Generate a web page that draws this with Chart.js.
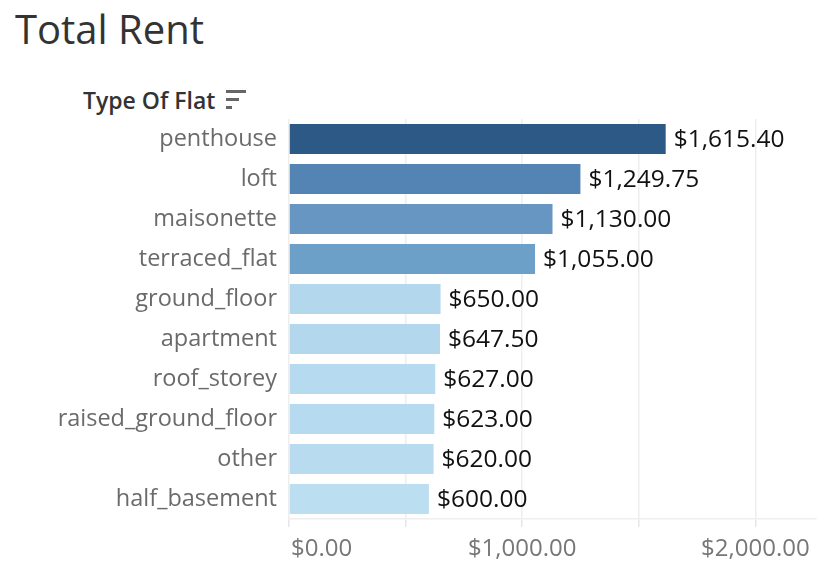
<!DOCTYPE html>
<html><head><meta charset="utf-8">
<script src="https://cdn.jsdelivr.net/npm/chart.js@4"></script>
<style>
html,body{margin:0;padding:0;background:#fff;width:822px;height:568px;overflow:hidden;}
#wrap{position:relative;width:822px;height:568px;}
#title{position:absolute;left:15px;top:1px;font:40px "Open Sans",sans-serif;color:#333;margin:0;white-space:nowrap;}
#hdr{position:absolute;left:83px;top:84px;font:600 23px "Open Sans",sans-serif;color:#333;white-space:nowrap;}
#sort{position:absolute;left:226px;top:90px;width:20px;height:19px;}
#sort span{position:absolute;left:0;height:3px;background:#666;}
canvas{position:absolute;left:0;top:0;}
</style></head>
<body><div id="wrap">
<div id="title">Total Rent</div>
<div id="hdr">Type Of Flat</div>
<div id="sort"><span style="top:0;width:20px"></span><span style="top:8px;width:13px"></span><span style="top:16px;width:6px"></span></div>
<canvas id="c" width="822" height="568"></canvas>
</div>
<script>
const categories = ["penthouse","loft","maisonette","terraced_flat","ground_floor","apartment","roof_storey","raised_ground_floor","other","half_basement"];
const rentValues = [1615.40,1249.75,1130.00,1055.00,650.00,647.50,627.00,623.00,620.00,600.00];
const barColors = ["#2c5985","#5384b4","#6696c1","#6ca0c9","#b3d8ee","#b3d8ee","#b6daef","#b6daef","#b8dbf0","#bcdef1"];
const xTickValues = [0,500,1000,1500,2000];
const xTickLabels = ["$0.00","","$1,000.00","","$2,000.00"];

const fmt = v => "$" + v.toLocaleString("en-US",{minimumFractionDigits:2,maximumFractionDigits:2});

const valueLabels = {
  id:"valueLabels",
  afterDatasetsDraw(chart){
    const ctx = chart.ctx;
    const meta = chart.getDatasetMeta(0);
    ctx.save();
    ctx.font = '24.5px "Open Sans", sans-serif';
    ctx.fillStyle = "#111";
    ctx.textAlign = "left";
    ctx.textBaseline = "middle";
    meta.data.forEach((bar,i)=>{
      ctx.fillText(fmt(rentValues[i]), bar.x + 8, bar.y + 1);
    });
    ctx.restore();
  }
};
const xLabels = {
  id:"xLabels",
  afterDraw(chart){
    const sc = chart.scales.x;
    const ctx = chart.ctx;
    ctx.save();
    ctx.font = '24px "Open Sans", sans-serif';
    ctx.fillStyle = "#777";
    ctx.textBaseline = "middle";
    xTickValues.forEach((v,i)=>{
      const t = xTickLabels[i];
      if(!t) return;
      let px = sc.getPixelForValue(v);
      const w = ctx.measureText(t).width;
      let x = px - w/2;
      if (x < sc.left) x = sc.left + 2;
      ctx.textAlign = "left";
      ctx.fillText(t, x, 549);
    });
    ctx.restore();
  }
};

new Chart(document.getElementById("c"),{
  type:"bar",
  data:{labels:categories,datasets:[{data:rentValues,backgroundColor:barColors,barPercentage:0.75,categoryPercentage:1.0}]},
  options:{
    indexAxis:"y",
    responsive:false,
    animation:false,
    layout:{padding:{top:119,right:6,left:0,bottom:0}},
    plugins:{legend:{display:false},tooltip:{enabled:false}},
    scales:{
      y:{
        grid:{display:false,drawTicks:false},
        border:{display:false},
        ticks:{color:"#6a6a6a",padding:12,font:{family:"Open Sans",size:23.5}},
        afterFit(s){s.width=289;}
      },
      x:{
        min:0,max:2260,
        afterBuildTicks(s){s.ticks = xTickValues.map(v=>({value:v}));},
        grid:{color:"#eeeeee",lineWidth:1.5,tickLength:8,drawTicks:true,tickColor:"#e6e6e6"},
        border:{display:true,color:"#eeeeee",width:1.5},
        ticks:{color:"rgba(0,0,0,0)",callback:(v,i)=>xTickLabels[i],font:{family:"Open Sans",size:21}},
        afterFit(s){s.height=49;}
      }
    }
  },
  plugins:[valueLabels,xLabels]
});
</script>
</body></html>
